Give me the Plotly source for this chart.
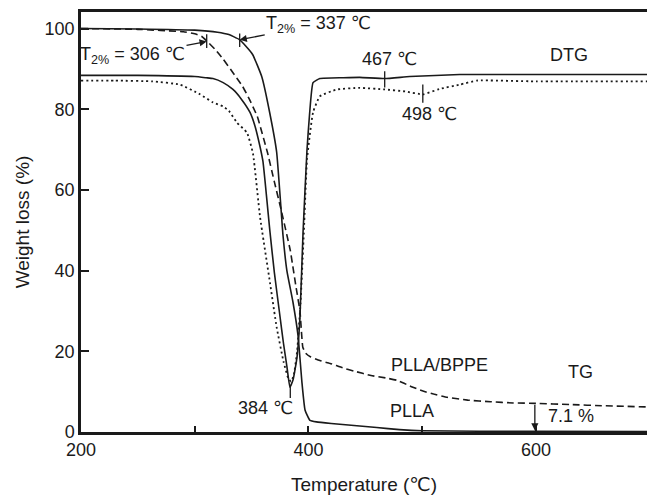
import plotly.graph_objects as go

# ---- data ----
tg_plla_T = [200, 250, 300, 320, 330, 339, 345, 351, 359, 366, 372, 377.6, 381, 386.4, 390.8, 394.3, 397, 401.3, 407, 420, 440, 460, 480, 500, 550, 600, 700]
tg_plla_W = [100, 99.9, 99.6, 99.1, 98.5, 97.3, 95.6, 93.5, 88.0, 79.0, 69.4, 48.7, 40.0, 32.1, 23.9, 12.1, 5.4, 2.9, 2.5, 2.1, 1.6, 1.1, 0.6, 0.3, 0.2, 0.15, 0.1]

tg_bppe_T = [200, 250, 290, 300, 306, 311, 318, 325, 333, 342, 348, 355, 364, 370, 376, 384, 389, 392.5, 395, 398, 402, 410, 419, 430, 440, 455, 468, 478, 490, 500, 510, 522, 540, 560, 580, 600, 630, 660, 700]
tg_bppe_W = [100, 99.8, 99.2, 98.7, 98.1, 96.8, 94.8, 92.4, 89.3, 85.7, 82.5, 78.2, 69.2, 62.0, 55.0, 45.0, 36.0, 30.0, 21.0, 19.4, 18.6, 17.7, 17.0, 15.9, 15.1, 14.0, 13.4, 12.8, 11.3, 10.2, 9.4, 8.6, 7.9, 7.5, 7.2, 7.1, 6.8, 6.5, 6.2]

dtg_plla_T = [200, 250, 300, 310, 316, 325, 333.6, 341, 348.6, 353, 357.4, 360, 366.2, 370, 375, 378, 381.1, 383.7, 386.5, 389.9, 392.5, 395.2, 398.7, 401, 404, 410, 430, 445, 467, 489, 533, 600, 700]
dtg_plla_W = [88.4, 88.4, 88.1, 87.8, 87.6, 86.6, 84.9, 82.5, 79.2, 75.8, 70.7, 67.0, 49.4, 39.5, 28.5, 22.0, 16.1, 11.1, 13.0, 18.5, 28.5, 49.4, 70.0, 79.0, 86.6, 87.6, 87.8, 87.9, 87.6, 88.1, 88.6, 88.6, 88.6]

dtg_bppe_T = [200, 230, 263, 287, 304.6, 316, 324.8, 330, 337.1, 345.9, 351.2, 357.4, 366.2, 372, 378, 382, 384.5, 387, 390, 393, 396, 398.7, 404, 410, 425, 445, 467, 485, 500.7, 515, 533, 548, 600, 700]
dtg_bppe_W = [87.1, 87.1, 86.9, 86.1, 83.7, 81.7, 80.7, 79.6, 76.7, 74.2, 69.0, 53.3, 36.9, 26.0, 17.5, 13.5, 12.5, 14.0, 20.0, 32.0, 50.0, 67.5, 79.2, 83.2, 84.9, 85.3, 84.9, 84.4, 83.7, 85.0, 86.1, 87.1, 86.9, 86.9]

x_ticks = [200, 300, 400, 500, 600, 700]
x_labels = ["200", "", "400", "", "600", ""]
y_ticks = [0, 20, 40, 60, 80, 100]

t2_plla, t2_bppe = 337, 306
peak_T = 384
dtg2_plla, dtg2_bppe = 467, 498
residue = 7.1

FONT = "Liberation Sans, Arial, DejaVu Sans, sans-serif"
INK = "#1a1a1a"

fig = go.Figure()
fig.add_trace(go.Scatter(x=tg_plla_T, y=tg_plla_W, mode="lines",
                         line=dict(color=INK, width=1.6, shape="spline", smoothing=0.4)))
fig.add_trace(go.Scatter(x=tg_bppe_T, y=tg_bppe_W, mode="lines",
                         line=dict(color=INK, width=1.6, dash="7px,4px", shape="spline", smoothing=0.3)))
fig.add_trace(go.Scatter(x=dtg_plla_T, y=dtg_plla_W, mode="lines",
                         line=dict(color=INK, width=1.6, shape="spline", smoothing=0.4)))
fig.add_trace(go.Scatter(x=dtg_bppe_T, y=dtg_bppe_W, mode="lines",
                         line=dict(color=INK, width=1.8, dash="2px,3px", shape="spline", smoothing=0.4)))

# short vertical marker ticks on the curves
tick_marks = [
    ([310.5, 310.5], [95.2, 98.6]),
    ([339.5, 339.5], [95.4, 98.8]),
    ([dtg2_plla, dtg2_plla], [85.4, 89.4]),
    ([dtg2_bppe + 2.5, dtg2_bppe + 2.5], [81.6, 86.1]),
    ([peak_T, peak_T], [8.4, 11.5]),
]
for xs, ys in tick_marks:
    fig.add_trace(go.Scatter(x=xs, y=ys, mode="lines", line=dict(color=INK, width=1.3)))

ann_font = dict(family=FONT, size=18, color=INK)
annotations = [
    dict(x=339.5, y=97.2, ax=409, ay=101.1, axref="x", ayref="y",
         text=f"T<sub>2%</sub> = {t2_plla} ℃", showarrow=True, arrowhead=2,
         arrowsize=1.1, arrowwidth=1.3, arrowcolor=INK, standoff=0, startstandoff=0),
    dict(x=310.5, y=96.8, ax=245.3, ay=93.3, axref="x", ayref="y",
         text=f"T<sub>2%</sub> = {t2_bppe} ℃", showarrow=True, arrowhead=2,
         arrowsize=1.1, arrowwidth=1.3, arrowcolor=INK, standoff=0, startstandoff=0),
    dict(x=470.8, y=92.5, text=f"{dtg2_plla} ℃", showarrow=False),
    dict(x=506.8, y=78.7, text=f"{dtg2_bppe} ℃", showarrow=False),
    dict(x=629, y=93.4, text="DTG", showarrow=False),
    dict(x=515.6, y=16.6, text="PLLA/BPPE", showarrow=False),
    dict(x=638.7, y=14.9, text="TG", showarrow=False),
    dict(x=491, y=5.1, text="PLLA", showarrow=False),
    dict(x=631, y=3.9, text=f"{residue:.1f} %", showarrow=False),
    dict(x=362.6, y=5.9, text=f"{peak_T} ℃", showarrow=False),
    dict(x=599, y=0.4, ax=599, ay=residue, axref="x", ayref="y", text="",
         showarrow=True, arrowhead=2, arrowsize=1.1, arrowwidth=1.3, arrowcolor=INK,
         standoff=0, startstandoff=0),
]
for a in annotations:
    a.setdefault("font", ann_font)
    a["xref"] = "x"
    a["yref"] = "y"

fig.update_layout(
    width=647, height=495,
    margin=dict(l=81, r=0, t=12, b=63),
    paper_bgcolor="white", plot_bgcolor="white",
    showlegend=False,
    font=dict(family=FONT, size=18, color=INK),
    annotations=annotations,
    xaxis=dict(range=[200, 697.6], tickvals=x_ticks, ticktext=x_labels,
               ticks="inside", ticklen=6, tickwidth=1.5, tickcolor=INK,
               showline=True, linewidth=2.5, linecolor=INK, mirror=True,
               showgrid=False, zeroline=False,
               tickfont=dict(family=FONT, size=18, color=INK),
               title=dict(text="Temperature (℃)", font=dict(family=FONT, size=19, color=INK), standoff=20)),
    yaxis=dict(range=[0, 104.1], tickvals=y_ticks,
               ticks="inside", ticklen=8, tickwidth=1.5, tickcolor=INK,
               showline=True, linewidth=2.5, linecolor=INK, mirror=False,
               showgrid=False, zeroline=False,
               tickfont=dict(family=FONT, size=18, color=INK),
               title=dict(text="Weight loss (%)", font=dict(family=FONT, size=19, color=INK), standoff=10)),
)

fig.write_html("out.html")
